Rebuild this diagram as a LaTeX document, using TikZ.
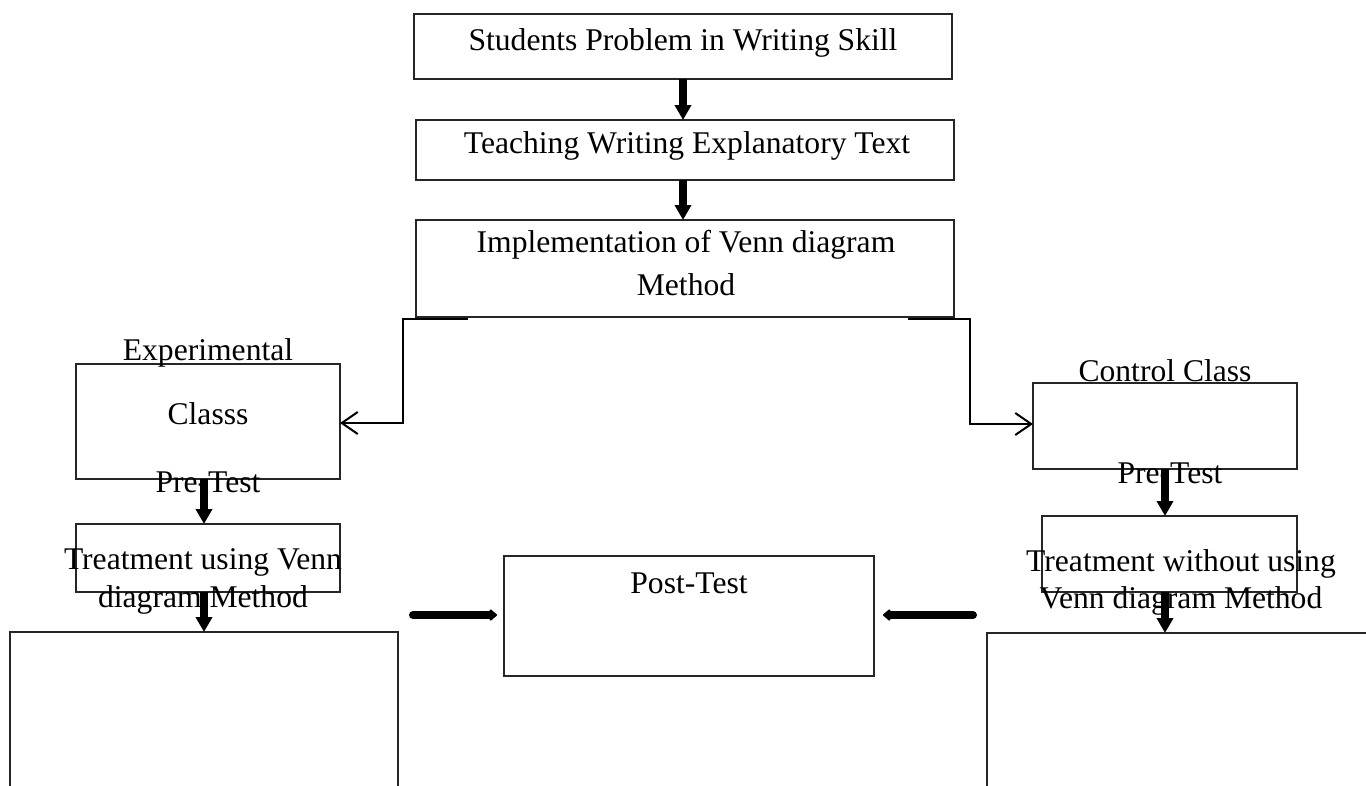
\documentclass[tikz,border=0pt]{standalone}
\usepackage{fontspec}
\setmainfont{Liberation Serif}
\usetikzlibrary{arrows.meta}
\begin{document}
\begin{tikzpicture}[x=1pt,y=-1pt,
  box/.style={draw=black!85,line width=1.3pt,rectangle,inner sep=0pt,outer sep=0pt},
  lbl/.style={anchor=base,inner sep=0pt,font=\fontsize{31.6pt}{38pt}\selectfont},
  fatdown/.style={line width=8pt,-{Triangle[length=15pt,width=16pt]}},
  fatside/.style={line width=8pt,line cap=round,-{Triangle[length=8pt,width=13pt,round]}},
  elbow/.style={line width=2pt,-{Straight Barb[length=16pt,width=22pt]}}]
\useasboundingbox (0,0) rectangle (1366,785);
\clip (0,0) rectangle (1366,785);
% boxes
\node[box,minimum width=538pt,minimum height=65pt] (s1) at (683,46.5) {};
\node[box,minimum width=538pt,minimum height=60pt] (s2) at (685,150) {};
\node[box,minimum width=538pt,minimum height=97pt] (s3) at (685,268.5) {};
\node[box,minimum width=264pt,minimum height=115pt] (exp) at (208,421.5) {};
\node[box,minimum width=264pt,minimum height=86pt] (ctl) at (1165,426) {};
\node[box,minimum width=264pt,minimum height=68pt] (tl) at (208,558) {};
\node[box,minimum width=255pt,minimum height=76pt] (tr) at (1169.5,554) {};
\node[box,minimum width=370pt,minimum height=120pt] (post) at (689,616) {};
\node[box,minimum width=388pt,minimum height=268pt] (bl) at (204,766) {};
\node[box,minimum width=413pt,minimum height=267pt] (br) at (1193.5,766.5) {};
% texts
\node[lbl] (t1) at (683,50) {Students Problem in Writing Skill};
\node[lbl] (t2) at (687,153) {Teaching Writing Explanatory Text};
\node[lbl] (t3a) at (686,252) {Implementation of Venn diagram};
\node[lbl] (t3b) at (686,295) {Method};
\node[lbl] (te1) at (208,360) {Experimental};
\node[lbl] (te2) at (208,424) {Classs};
\node[lbl] (te3) at (208,492) {Pre-Test};
\node[lbl] (tl1) at (203,569) {Treatment using Venn};
\node[lbl] (tl2) at (203,607) {diagram Method};
\node[lbl] (tc1) at (1165,381) {Control Class};
\node[lbl] (tc2) at (1170,483) {Pre-Test};
\node[lbl] (tr1) at (1181,571) {Treatment without using};
\node[lbl] (tr2) at (1181,608) {Venn diagram Method};
\node[lbl] (tp) at (689,593) {Post-Test};
% vertical thick arrows
\draw[fatdown] (s1.south) -- (s1.south |- s2.north);
\draw[fatdown] (s1.south |- s2.south) -- (s1.south |- s3.north);
\draw[fatdown] ([xshift=-4pt]exp.south) -- ([xshift=-4pt]exp.south |- tl.north);
\draw[fatdown] ([xshift=-4pt]exp.south |- tl.south) -- ([xshift=-4pt]exp.south |- bl.north);
\draw[fatdown] (ctl.south) -- (ctl.south |- tr.north);
\draw[fatdown] (ctl.south |- tr.south) -- (ctl.south |- br.north);
% elbow connectors
\draw[elbow] ([xshift=52pt,yshift=-2pt]s3.south west) -- ++(-65,0) |- ([yshift=-1.5pt]exp.east);
\draw[elbow] ([xshift=-46pt,yshift=-2pt]s3.south east) -- ++(62,0) |- ([yshift=2pt]ctl.west);
% side arrows to post-test
\coordinate (la) at (413,615);
\coordinate (ra) at (973,615);
\draw[fatside] (la) -- ([xshift=-7pt,yshift=1pt]post.west);
\draw[fatside] (ra) -- ([xshift=9pt,yshift=1pt]post.east);
\end{tikzpicture}
\end{document}
